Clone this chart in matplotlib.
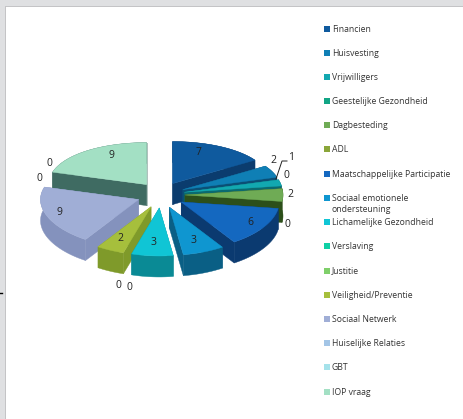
import numpy as np
import matplotlib
matplotlib.use('Agg')
import matplotlib.pyplot as plt
from matplotlib.patches import Polygon, Rectangle

plt.rcParams['font.family'] = ['Open Sans', 'DejaVu Sans']

# Data
categories = ['Financien', 'Huisvesting', 'Vrijwilligers', 'Geestelijke Gezondheid',
              'Dagbesteding', 'ADL', 'Maatschappelijke Participatie',
              'Sociaal emotionele\nondersteuning', 'Lichamelijke Gezondheid',
              'Verslaving', 'Justitie', 'Veiligheid/Preventie', 'Sociaal Netwerk',
              'Huiselijke Relaties', 'GBT', 'IOP vraag']
values = [7, 2, 1, 0, 2, 0, 6, 3, 3, 0, 0, 2, 9, 0, 0, 9]

# Colours
top_colors = ['#0f5a9e', '#0f7fb5', '#12a8b0', '#12a585', '#6fab55', '#8aa63a',
              '#1468c0', '#0f96d0', '#10c5d5', '#10d0a5', '#7fcf6a', '#a6bf3c',
              '#a0aed6', '#a3c5e6', '#a5e2ea', '#a3e0c4']
side_colors = ['#0b3c6e', '#0b4f75', '#0b6a70', '#0b6a55', '#2c4f1a', '#5a6e20',
               '#0b3a70', '#0a5f85', '#0a8a95', '#0a8a6a', '#4f8a40', '#7f9a2a',
               '#8492bd', '#7f9dc0', '#7fb5bd', '#3f6b62']

# Layout, in pixels
cx, cy = 161, 195
rx = 98
ry_mid, ry_tilt = 45, 3   # front of the pie looks a bit deeper than the back
ex, ey = 24, 13
depth = 21
legend_y = [29, 53, 77, 101, 125, 149, 174, 204, 222, 246, 271, 295, 319, 343, 367, 392]
label_xy = [(199, 152), (273, 160), (291, 157), (286, 175), (290, 194), (287, 224),
            (250, 222), (194, 240), (154, 242), (129, 287), (118, 285), (120, 238),
            (59, 212), (39, 178), (49, 163), (111, 155)]

fig = plt.figure(figsize=(4.64, 4.19), dpi=100)
ax = fig.add_axes([0, 0, 1, 1])
ax.set_xlim(0, 464)
ax.set_ylim(419, 0)
ax.axis('off')

# page frame
ax.add_patch(Rectangle((0, 0), 464, 419, fc='#dfe0e2', ec='none', zorder=0))
ax.add_patch(Rectangle((5, 6), 459, 413, fc='#c4c4c6', ec='none', zorder=0))
ax.add_patch(Rectangle((6, 7), 458, 412, fc='white', ec='none', zorder=0))
ax.plot([0, 2], [293, 293], color='black', lw=1, zorder=1)

# slices, clockwise from 12 o'clock
total = sum(values)
edges = np.cumsum([0] + values) / total * 2 * np.pi
slices = []
for i, v in enumerate(values):
    if v > 0:
        slices.append((-np.cos((edges[i] + edges[i + 1]) / 2), i))

z = 2
for _, i in sorted(slices):
    a0, a1 = edges[i], edges[i + 1]
    mid = (a0 + a1) / 2
    ox = cx + ex * np.sin(mid)
    oy = cy - ey * np.cos(mid)
    t = np.linspace(a0, a1, 60)
    xs = ox + rx * np.sin(t)
    ys = oy - (ry_mid - ry_tilt * np.cos(t)) * np.cos(t)
    side = side_colors[i]
    # radial faces
    for k in [0, -1]:
        face = [(ox, oy), (xs[k], ys[k]), (xs[k], ys[k] + depth), (ox, oy + depth)]
        ax.add_patch(Polygon(face, fc=side, ec=side, lw=0.3, zorder=z))
        z += 1
    # outer wall
    wall = list(zip(xs, ys)) + list(zip(xs[::-1], ys[::-1] + depth))
    ax.add_patch(Polygon(wall, fc=side, ec=side, lw=0.3, zorder=z))
    z += 1
    # top
    top = [(ox, oy)] + list(zip(xs, ys))
    ax.add_patch(Polygon(top, fc=top_colors[i], ec=top_colors[i], lw=0.3, zorder=z))
    z += 1

# data labels
for v, (x, y) in zip(values, label_xy):
    ax.text(x, y, str(v), fontsize=7.5, color='#222222', ha='center', va='center', zorder=200)
ax.plot([287, 282, 276], [161, 161, 179], color='#222222', lw=0.7, zorder=200)

# legend
for name, col, y in zip(categories, top_colors, legend_y):
    if '\n' in name:
        ax.add_patch(Rectangle((324, 195), 6, 6, fc=col, ec='none', zorder=200))
    else:
        ax.add_patch(Rectangle((324, y - 3), 6, 6, fc=col, ec='none', zorder=200))
    ax.text(332, y, name, fontsize=6.2, color='#333333', ha='left', va='center',
            linespacing=1.35, zorder=200)

fig.savefig('out.png', dpi=100)
